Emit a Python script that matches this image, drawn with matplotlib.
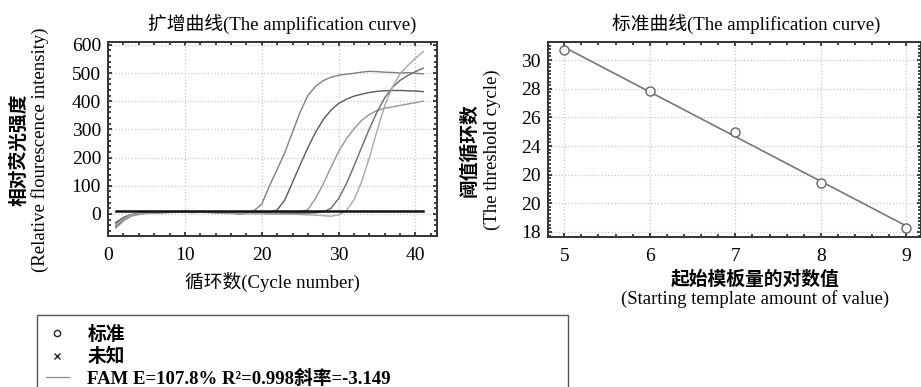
import numpy as np
import matplotlib
matplotlib.use("Agg")
import matplotlib.pyplot as plt
from matplotlib.lines import Line2D
from matplotlib.patches import Rectangle
from matplotlib.ticker import MultipleLocator

plt.rcParams['font.family'] = ['Liberation Serif', 'Noto Sans CJK SC']
plt.rcParams['font.size'] = 13

# amplification curves (cycle 1..41)
cycles = np.arange(1, 42)
curve_a = [-35, -14, -3, 2, 4, 5, 6, 7, 8, 8, 7, 8, 7, 6, 5, 4, 2, 4, 12, 35,
           100, 158, 218, 290, 362, 420, 453, 473, 485, 492, 496, 499, 503, 506, 505, 503,
           502, 500, 501, 499, 497]
curve_b = [-45, -20, -5, 0, 3, 4, 5, 6, 7, 7, 6, 7, 6, 5, 4, 3, 0, 2, 3, 4,
           6, 14, 50, 112, 175, 235, 290, 335, 368, 392, 407, 418, 425, 431, 435, 437,
           438, 438, 437, 436, 434]
curve_c = [-50, -25, -8, -2, 2, 3, 4, 5, 6, 6, 5, 6, 5, 4, 3, 2, 1, 2, 2, 3,
           3, 4, 4, 5, 7, 16, 55, 107, 165, 222, 266, 302, 332, 353, 367, 375,
           380, 385, 390, 395, 400]
curve_d = [-30, -12, -2, 3, 5, 6, 7, 8, 8, 9, 8, 8, 7, 6, 5, 4, 3, 3, 2, 2,
           1, 1, 2, 2, 3, 3, 4, 8, 20, 55, 107, 170, 237, 302, 362, 412,
           449, 474, 491, 505, 517]
curve_e = [-40, -18, -4, 1, 3, 5, 6, 6, 7, 7, 7, 6, 6, 5, 4, 3, 2, 2, 1, 1,
           0, 0, -1, -1, -2, -3, -4, -6, -8, -3, 12, 50, 115, 200, 295, 385,
           450, 497, 527, 552, 576]
curves = [curve_a, curve_b, curve_c, curve_d, curve_e]
curve_colors = ['#808080', '#5a5a5a', '#959595', '#6a6a6a', '#a8a8a8']
threshold = 10

# standard curve
log_amount = [5, 6, 7, 8, 9]
ct_values = [30.7, 27.86, 24.97, 21.45, 18.3]
ct_ticks = [18, 20, 22, 24, 26, 28, 30]
ct_ticklabels = ['18', '20', '20', '24', '26', '28', '30']

legend_labels = ['标准', '未知', 'FAM E=107.8% R²=0.998斜率=-3.149']

fig = plt.figure(figsize=(9.21, 3.87), dpi=100)


def style_axes(ax):
    for s in ax.spines.values():
        s.set_color('#333333')
        s.set_linewidth(1.4)
    ax.tick_params(which='both', direction='in', top=True, right=True, color='#222222',
                   labelsize=14)
    ax.tick_params(which='major', length=3, width=1.2)
    ax.tick_params(which='minor', length=2, width=1.2)
    ax.tick_params(axis='x', pad=8)
    ax.tick_params(axis='y', pad=5)
    ax.grid(True, which='major', color='#c8c8c8', linestyle=':', linewidth=0.9)


# left: amplification curves
ax1 = fig.add_axes([0.1173, 0.3902, 0.3572, 0.5013])
for vals, col in zip(curves, curve_colors):
    ax1.plot(cycles, vals, color=col, lw=1.0)
ax1.plot([cycles[0], cycles[-1]], [threshold, threshold], color='#111111', lw=1.8)
ax1.set_xlim(0, 42.8)
ax1.set_ylim(-78, 610)
ax1.set_xticks([0, 10, 20, 30, 40])
ax1.set_yticks([0, 100, 200, 300, 400, 500, 600])
ax1.xaxis.set_minor_locator(MultipleLocator(2))
ax1.yaxis.set_minor_locator(MultipleLocator(20))
style_axes(ax1)
ax1.set_title('扩增曲线(The amplification curve)', fontsize=13.5, x=0.53, pad=9)
ax1.set_xlabel('循环数(Cycle number)', fontsize=13.5, labelpad=6)
ax1.text(-0.27, 0.443, '相对荧光强度', rotation=90, transform=ax1.transAxes,
         ha='center', va='center', fontsize=13.5, fontweight='bold')
ax1.text(-0.207, 0.443, '(Relative flourescence intensity)', rotation=90,
         transform=ax1.transAxes, ha='center', va='center', fontsize=13.5)

# right: standard curve
ax2 = fig.add_axes([0.595, 0.3876, 0.405, 0.5039])
slope, intercept = np.polyfit(log_amount, ct_values, 1)
fit_x = np.array([log_amount[0], log_amount[-1]])
ax2.plot(fit_x, slope * fit_x + intercept, color='#777777', lw=1.2)
ax2.plot(log_amount, ct_values, 'o', mfc='white', mec='#666666', mew=1.0, ms=6.5)
ax2.set_xlim(4.81, 9.17)
ax2.set_ylim(17.65, 31.26)
ax2.set_xticks(log_amount)
ax2.set_yticks(ct_ticks)
ax2.set_yticklabels(ct_ticklabels)
ax2.xaxis.set_minor_locator(MultipleLocator(0.2))
ax2.yaxis.set_minor_locator(MultipleLocator(0.25))
style_axes(ax2)
ax2.set_title('标准曲线(The amplification curve)', fontsize=13.5, x=0.53, pad=9)
ax2.text(0.555, -0.22, '起始模板量的对数值', transform=ax2.transAxes,
         ha='center', va='center', fontsize=13.5, fontweight='bold')
ax2.text(0.555, -0.32, '(Starting template amount of value)', transform=ax2.transAxes,
         ha='center', va='center', fontsize=13.5)
ax2.text(-0.212, 0.446, '阈值循环数', rotation=90, transform=ax2.transAxes,
         ha='center', va='center', fontsize=13.5, fontweight='bold')
ax2.text(-0.15, 0.446, '(The threshold cycle)', rotation=90,
         transform=ax2.transAxes, ha='center', va='center', fontsize=13.5)

# legend box at the bottom
fig.patches.append(Rectangle((0.0402, -0.1), 0.5765, 0.286, transform=fig.transFigure,
                             fill=False, ec='#555555', lw=1.0))
handles = [Line2D([], [], marker='o', ls='none', mfc='none', mec='#222222', ms=4.5),
           Line2D([], [], marker='x', ls='none', color='#222222', ms=4),
           Line2D([], [], color='#888888', lw=0.9)]
fig.legend(handles, legend_labels, loc='upper left', bbox_to_anchor=(0.05, 0.158),
           frameon=False, labelspacing=0.2, handlelength=1.2,
           handletextpad=1.0, borderpad=0, borderaxespad=0,
           prop={'weight': 'bold', 'size': 13.5})

fig.savefig('out.png', dpi=100)
